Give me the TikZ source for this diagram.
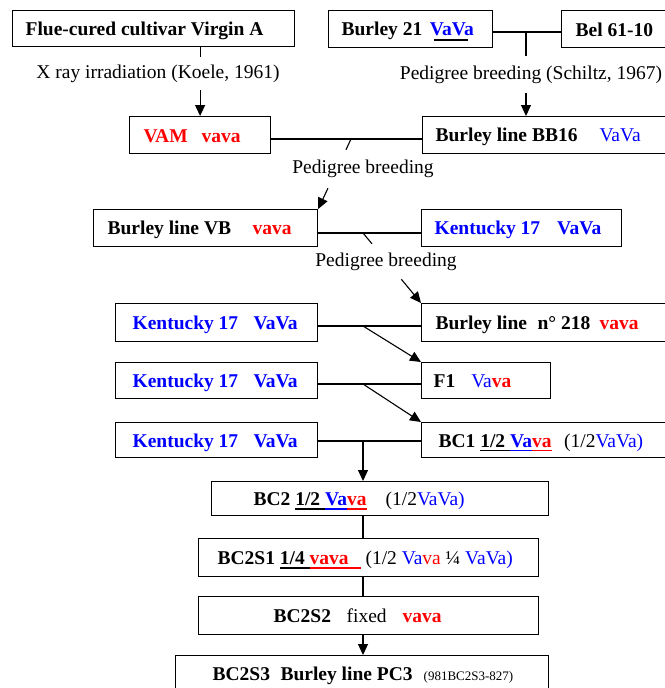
\documentclass[tikz,border=0pt]{standalone}
\usepackage{fontspec}
\setmainfont{Liberation Serif}
\usetikzlibrary{arrows.meta,calc}
\definecolor{vblue}{RGB}{0,0,255}
\definecolor{vred}{RGB}{255,0,0}
\newcommand\cul[2]{\begingroup\setbox0\hbox{#2}\rlap{\color{#1}\rule[-4pt]{\wd0}{1.3pt}}\box0\endgroup}
\newcommand\bl[1]{\textcolor{vblue}{#1}}
\newcommand\rd[1]{\textcolor{vred}{#1}}
\newcommand\sk[1]{\hspace*{#1pt}}
\newcommand\ST{\rule[-4pt]{0pt}{22pt}}
\newcommand\bxn[7]{\node[bx, minimum width=#4pt, minimum height=#5pt] (#1) at (#2,#3) {\makebox[#4pt][l]{\hspace*{#6pt}#7\ST}};}
\begin{document}
\begin{tikzpicture}[x=1pt,y=-1pt,
  bx/.style={draw, line width=1.2pt, inner sep=0pt, anchor=north west, font=\fontsize{19.5}{22}\selectfont\bfseries},
  lbl/.style={inner sep=0pt, font=\fontsize{19.5}{22}\selectfont},
  ln/.style={line width=1.1pt},
  arr/.style={line width=1.1pt, -{Triangle[length=11pt,width=10pt]}}]
\useasboundingbox (0,0) rectangle (664,688);
% boxes
\bxn{virgin}{12}{10}{282}{36}{13}{Flue-cured cultivar Virgin A}
\bxn{burley}{328}{10}{164}{37}{13}{Burley 21\sk{7.5}\rlap{\hspace*{4pt}\rule[-5pt]{34pt}{1.2pt}}\bl{VaVa}}
\bxn{bel}{561}{10}{110}{37}{14}{Bel 61-10}
\bxn{vam}{129}{116}{141}{37}{14}{\rd{VAM\sk{14}vava}}
\bxn{bb}{422}{116}{250}{37}{13}{Burley line BB16\sk{22}\bl{\mdseries VaVa}}
\bxn{vb}{93}{209}{224}{37}{14}{Burley line VB\sk{21.5}\rd{vava}}
\bxn{kya}{421}{209}{200}{37}{13}{\bl{Kentucky 17\sk{17}VaVa}}
\bxn{lnb}{421}{303}{250}{38}{14}{Burley line\sk{10.4}n° 218\sk{9.2}\rd{vava}}
\bxn{kyb}{115}{303}{202}{38}{17}{\bl{Kentucky 17\sk{15.4}VaVa}}
\bxn{kyc}{115}{362}{202}{36}{17}{\bl{Kentucky 17\sk{15.4}VaVa}}
\bxn{fone}{421}{362}{129}{36}{12}{F1\sk{16}\bl{\mdseries Va}\rd{va}}
\bxn{kyd}{115}{422}{202}{35}{17}{\bl{Kentucky 17\sk{15.4}VaVa}}
\bxn{bca}{421}{422}{250}{35}{17}{BC1 \cul{black}{1/2 }\cul{vblue}{\bl{Va}}\cul{vred}{\rd{va}}\sk{12.5}\mdseries(1/2\bl{VaVa)}}
\bxn{bcb}{211}{481}{337}{34}{42}{BC2 \cul{black}{1/2 }\cul{vblue}{\bl{Va}}\cul{vred}{\rd{va}}\sk{19}\mdseries(1/2\bl{VaVa)}}
\bxn{bcsa}{198}{538}{340}{38}{19}{BC2S1 \cul{black}{1/4 }\cul{vred}{\rd{vava}\sk{12}} \mdseries(1/2 \bl{Va}\rd{va} ¼ \bl{VaVa)}}
\bxn{bcsb}{198}{596}{340}{38}{75}{BC2S2\sk{15.6}\mdseries fixed\sk{16}\bfseries\rd{vava}}
\bxn{bcsc}{175}{655}{373}{35}{37}{BC2S3\sk{10.5}Burley line PC3\sk{11}{\mdseries\fontsize{13}{15}\selectfont(981BC2S3-827)}}
% labels
\node[lbl, minimum height=33pt] (xray) at (158,73.5) {X ray irradiation (Koele, 1961)};
\node[lbl, minimum height=37pt] (pedA) at (531,74.5) {Pedigree breeding (Schiltz, 1967)};
\node[lbl, minimum height=38pt] (pedB) at (363,169) {Pedigree breeding};
\node[lbl, minimum height=35pt] (pedC) at (386,261.5) {Pedigree breeding};
% junction points
\coordinate (ja) at (526,32);
\coordinate (ma) at (351,139);
\coordinate (mb) at (363,233);
\coordinate (mc) at (363,326);
\coordinate (md) at (363,384);
\coordinate (me) at (363,441);
\coordinate (vbne) at (vb.north east);
\coordinate (lnbnw) at (lnb.north west);
\coordinate (pbnw) at (pedB.north west);
\coordinate (pbne) at (pedB.north east);
\coordinate (pbsw) at (pedB.south west);
\coordinate (pbse) at (pedB.south east);
\coordinate (pcnw) at (pedC.north west);
\coordinate (pcne) at (pedC.north east);
\coordinate (pcsw) at (pedC.south west);
\coordinate (pcse) at (pedC.south east);
% connectors
\draw[ln] (vam.north |- virgin.south) -- (vam.north |- xray.north);
\draw[arr] (vam.north |- xray.south) -- (vam.north);
\draw[ln] (burley.east |- ja) -- (bel.west |- ja);
\draw[ln] (ja) -- (ja |- pedA.north);
\draw[arr] (ja |- pedA.south) -- (ja |- bb.north);
\draw[ln] (vam.east |- ma) -- (bb.west |- ma);
\draw[ln] (ma) -- (intersection of ma--vbne and pbnw--pbne);
\draw[arr] (intersection of ma--vbne and pbsw--pbse) -- (vbne);
\draw[ln] (vb.east |- mb) -- (kya.west |- mb);
\draw[ln] (mb) -- (intersection of mb--lnbnw and pcnw--pcne);
\draw[arr] (intersection of mb--lnbnw and pcsw--pcse) -- (lnbnw);
\draw[ln] (kyb.east |- mc) -- (lnb.west |- mc);
\draw[arr] (mc) -- (fone.north west);
\draw[ln] (kyc.east |- md) -- (fone.west |- md);
\draw[arr] (md) -- (bca.north west);
\draw[ln] (kyd.east |- me) -- (bca.west |- me);
\draw[arr] (me) -- (me |- bcb.north);
\draw[ln] (me |- bcb.south) -- (me |- bcsa.north);
\draw[ln] (me |- bcsa.south) -- (me |- bcsb.north);
\draw[arr] (me |- bcsb.south) -- (me |- bcsc.north);
\end{tikzpicture}
\end{document}
